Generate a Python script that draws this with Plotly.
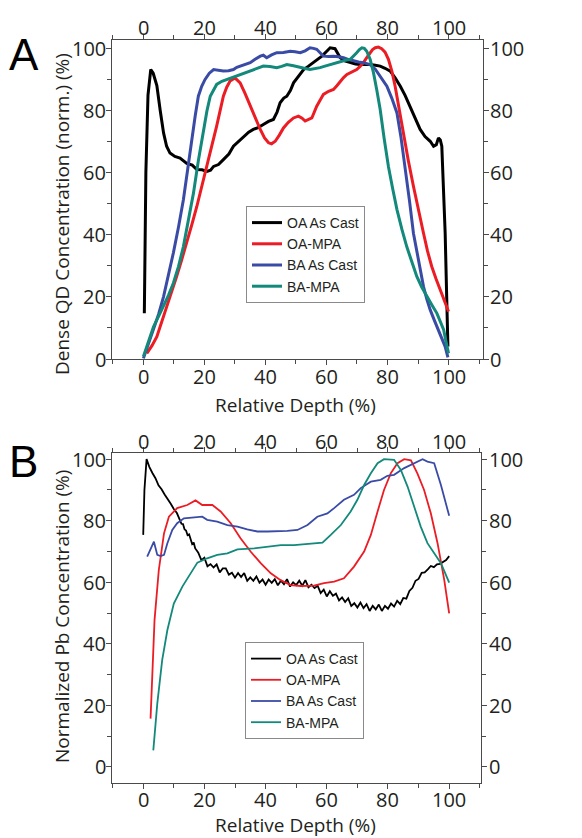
import plotly.graph_objects as go

# ---------------- Panel A data ----------------
a_oa_cast_x = [0.3, 0.8, 1.5, 2.4, 3.2, 4.4, 5.5, 6.6, 7.6, 8.7, 10.3, 12.0, 14.2, 16.0, 17.5, 19.2, 20.8, 22.0, 23.0, 24.6, 26.2, 28.0, 29.5, 31.2, 32.8, 34.5, 36.0, 37.6, 39.3, 41.0, 42.6, 43.8, 44.8, 46.0, 47.0, 48.2, 49.2, 51.0, 52.5, 54.0, 55.7, 57.0, 58.5, 60.0, 61.2, 62.8, 64.5, 66.0, 67.8, 69.5, 71.0, 72.6, 74.3, 76.0, 77.6, 79.2, 80.9, 82.5, 84.2, 85.8, 87.4, 89.0, 90.7, 92.3, 94.0, 95.1, 96.0, 96.7, 97.3, 97.8, 98.4, 98.9, 99.4, 99.8]
a_oa_cast_y = [14.7, 60.0, 85.0, 93.2, 92.0, 88.0, 80.0, 72.8, 68.5, 66.3, 65.2, 64.7, 63.0, 62.4, 61.0, 60.9, 60.4, 60.8, 62.0, 62.6, 64.2, 66.0, 68.5, 70.0, 71.7, 73.0, 73.9, 74.5, 75.5, 76.5, 77.1, 79.5, 82.5, 84.0, 84.6, 86.5, 88.9, 91.2, 93.2, 94.2, 95.4, 96.3, 97.5, 99.0, 100.2, 99.9, 97.0, 96.0, 95.4, 95.0, 94.8, 94.9, 94.8, 94.6, 94.3, 93.6, 92.7, 90.5, 87.8, 84.8, 81.4, 77.5, 73.9, 71.6, 70.1, 68.5, 69.0, 71.2, 70.5, 68.5, 55.0, 40.5, 20.0, 4.0]

a_oa_mpa_x = [1.1, 2.8, 4.4, 6.0, 7.7, 9.3, 10.9, 12.5, 14.2, 15.8, 17.5, 19.2, 20.8, 22.4, 24.0, 25.2, 26.2, 27.3, 28.4, 30.0, 31.7, 33.3, 35.0, 36.6, 38.3, 39.7, 41.0, 42.0, 43.2, 44.5, 45.9, 47.5, 49.2, 50.8, 52.0, 53.0, 54.0, 55.2, 56.8, 58.0, 59.0, 60.7, 62.3, 63.4, 64.5, 65.6, 66.7, 68.3, 69.9, 71.0, 72.1, 73.2, 74.3, 75.1, 76.0, 77.0, 78.1, 79.2, 80.3, 81.4, 82.5, 83.8, 85.2, 86.8, 88.5, 90.1, 91.8, 93.1, 94.5, 95.9, 97.3, 98.6, 100.0]
a_oa_mpa_y = [1.8, 4.3, 7.2, 11.8, 16.9, 21.6, 26.6, 31.8, 37.3, 43.0, 49.1, 55.6, 62.0, 68.6, 75.0, 80.0, 84.6, 87.5, 89.5, 90.5, 88.9, 85.5, 81.4, 77.5, 73.9, 71.2, 69.6, 69.3, 70.1, 72.0, 74.4, 76.2, 77.6, 78.2, 77.5, 76.6, 77.0, 77.6, 81.4, 83.5, 85.2, 86.2, 86.8, 88.0, 89.5, 90.6, 91.6, 92.4, 93.2, 94.2, 95.4, 97.0, 98.6, 99.6, 100.2, 100.4, 99.9, 98.8, 96.5, 92.8, 87.8, 80.5, 72.8, 64.0, 55.6, 47.8, 40.5, 34.8, 29.8, 25.8, 22.3, 18.8, 15.3]

a_ba_cast_x = [0.0, 1.6, 3.3, 5.0, 6.6, 8.2, 9.8, 11.5, 13.1, 14.5, 15.8, 17.0, 18.0, 19.1, 20.2, 21.6, 23.0, 24.6, 26.2, 27.9, 29.5, 30.6, 31.7, 33.3, 35.0, 36.6, 38.3, 39.3, 40.4, 42.0, 43.7, 45.9, 48.1, 49.7, 51.4, 53.0, 54.6, 55.7, 56.8, 57.9, 59.0, 60.7, 62.3, 64.0, 65.6, 67.3, 68.9, 70.5, 72.1, 73.2, 74.3, 76.0, 77.6, 78.7, 79.8, 81.4, 83.1, 84.4, 85.8, 87.2, 88.5, 90.1, 91.8, 92.9, 94.0, 95.3, 96.7, 97.8, 98.9, 99.8]
a_ba_cast_y = [0.2, 4.8, 9.4, 14.5, 20.1, 26.8, 34.1, 42.5, 51.3, 61.0, 70.6, 78.5, 84.6, 87.8, 90.0, 92.0, 93.2, 93.0, 92.7, 92.8, 93.2, 93.9, 94.3, 94.9, 95.4, 96.5, 97.5, 97.8, 97.0, 97.9, 98.6, 98.7, 99.1, 98.9, 98.6, 99.2, 100.2, 100.0, 99.7, 98.6, 97.5, 97.4, 97.5, 97.3, 97.0, 96.4, 95.9, 95.6, 95.4, 95.2, 94.8, 93.3, 91.1, 89.6, 87.8, 84.0, 79.2, 71.5, 62.0, 51.0, 40.5, 31.5, 23.3, 19.2, 15.8, 12.6, 9.4, 6.8, 4.0, 0.5]

a_ba_mpa_x = [0.0, 1.6, 3.3, 5.0, 6.6, 8.2, 9.8, 11.5, 13.1, 14.8, 16.4, 18.0, 19.7, 20.8, 21.9, 23.0, 24.0, 25.7, 27.3, 29.0, 30.6, 32.8, 35.0, 37.2, 39.3, 41.5, 43.7, 45.3, 47.0, 49.2, 51.4, 53.0, 54.6, 56.3, 57.9, 59.5, 61.2, 62.8, 64.5, 66.2, 67.8, 68.9, 69.9, 70.8, 71.6, 72.4, 73.2, 74.3, 75.4, 76.5, 77.6, 78.9, 80.3, 81.7, 83.1, 84.7, 86.3, 88.0, 89.6, 91.2, 92.9, 94.5, 96.2, 97.3, 98.4, 99.2, 100.0]
a_ba_mpa_y = [0.8, 5.8, 10.4, 13.8, 16.9, 20.5, 24.4, 29.8, 36.2, 44.5, 53.4, 63.8, 73.9, 79.8, 84.6, 86.8, 88.4, 89.4, 90.0, 90.7, 91.1, 91.9, 92.7, 93.6, 94.3, 94.2, 93.8, 94.2, 94.8, 94.4, 93.8, 93.5, 93.2, 93.4, 93.8, 94.3, 94.8, 95.4, 95.9, 96.2, 96.5, 97.5, 98.6, 99.6, 100.2, 100.0, 99.1, 96.5, 92.2, 86.5, 80.3, 71.0, 62.0, 54.8, 48.1, 41.8, 36.2, 31.2, 26.6, 23.2, 20.1, 17.5, 14.7, 12.2, 9.4, 5.5, 1.8]

# ---------------- Panel B data ----------------
b_oa_cast_x = [0, 0.4, 1.1, 2, 3, 4, 5, 6, 7, 8, 9, 10, 11, 12, 12.5, 13, 13.5, 14, 14.5, 15, 15.5, 16, 16.5, 17, 17.5,
               18, 19, 20, 21, 22, 23, 24, 25, 26, 27, 28, 29, 30, 31, 32, 33, 34, 35, 36, 37, 38, 39, 40, 41, 42, 43, 44, 45,
               46, 47, 48, 49, 50, 51, 52, 53, 54, 55, 56, 57, 58, 59, 60, 61, 62, 63, 64, 65, 66, 67, 68, 69, 70, 71, 72,
               73, 74, 75, 76, 77, 78, 79, 80, 81, 82, 83, 84, 85, 86, 87, 88, 89, 90, 91, 92, 93, 94, 95, 96, 97, 98, 99, 100]
b_oa_cast_y = [75.4, 90.0, 100.0, 97.5, 95.5, 93.8, 91.5, 90.2, 88.5, 87.2, 85.5, 83.8, 82.5, 80.2, 79.0, 78.9, 77.2, 76.8, 75.3, 75.6, 73.9, 72.4, 72.9, 71.0, 70.3,
               69.6, 67.2, 68.0, 65.2, 65.9, 64.8, 65.8, 63.2, 64.5, 64.5, 62.5, 63.1, 61.5, 63.0, 61.7, 63.0, 60.5, 61.6, 60.5, 61.9, 59.9, 60.9, 59.2, 60.9, 59.8, 61.0, 59.0, 60.5,
               59.4, 61.0, 58.6, 60.0, 59.1, 60.5, 58.9, 60.7, 58.4, 59.2, 58.1, 58.9, 56.5, 57.6, 55.4, 57.1, 55.6, 56.3, 54.1, 55.1, 53.6, 54.8, 52.3, 53.2, 51.8, 53.4, 51.6,
               52.9, 50.7, 52.35, 51.2, 52.75, 50.7, 52.35, 51.4, 53.1, 52.1, 54.0, 52.9, 54.9, 54.7, 57.2, 58.2, 60.5, 61.1, 63.1, 63.2, 64.2, 65.3, 64.9, 65.8, 66.0, 66.5, 67.2, 68.5]

b_oa_mpa_x = [2.4, 3.7, 5.1, 6.8, 8.4, 11.1, 14.4, 17.1, 19.3, 22.6, 25.3, 28.6, 31.8, 35.1, 38.4, 41.7, 44.9, 48.2, 51.5, 55.8, 59.1, 62.4, 65.6, 68.9, 72.2, 74.4, 76.6, 78.7, 80.9, 83.1, 85.3, 87.5, 89.6, 91.8, 94.0, 96.2, 98.4, 100.0]
b_oa_mpa_y = [15.7, 47.7, 64.0, 75.9, 81.3, 84.1, 85.1, 86.6, 85.1, 85.1, 83.0, 79.2, 74.3, 70.0, 66.2, 62.9, 60.7, 59.1, 58.8, 58.9, 59.7, 60.2, 61.3, 65.1, 70.0, 75.4, 83.0, 90.0, 95.4, 98.7, 100.0, 99.6, 95.4, 90.0, 82.4, 72.7, 60.7, 49.9]

b_ba_cast_x = [1.3, 2.4, 3.5, 4.6, 5.7, 6.8, 7.9, 9.5, 11.1, 13.3, 16.6, 19.3, 20.9, 24.2, 27.5, 30.8, 34.0, 37.3, 40.6, 43.8, 47.1, 50.4, 53.7, 56.9, 60.2, 62.4, 65.6, 68.9, 71.1, 74.4, 77.6, 79.8, 82.0, 85.3, 88.5, 91.3, 92.9, 95.1, 97.3, 100.0]
b_ba_cast_y = [68.3, 70.5, 73.2, 68.9, 68.5, 68.9, 72.7, 77.0, 79.2, 80.8, 81.0, 81.3, 80.3, 79.7, 78.6, 78.1, 77.2, 76.5, 76.5, 76.5, 76.7, 77.0, 78.6, 81.3, 82.4, 84.1, 86.8, 88.4, 90.6, 92.7, 93.3, 94.6, 94.9, 97.1, 98.7, 100.0, 99.2, 98.7, 91.6, 81.6]

b_ba_mpa_x = [3.3, 4.6, 6.2, 7.9, 10.0, 12.8, 15.5, 17.7, 20.9, 24.2, 27.5, 30.8, 36.2, 40.6, 45.0, 49.3, 53.7, 58.6, 61.3, 64.6, 67.8, 70.0, 72.2, 74.4, 76.6, 78.7, 82.0, 84.2, 86.4, 88.5, 90.7, 92.9, 95.1, 97.3, 100.0]
b_ba_mpa_y = [5.4, 20.6, 34.7, 44.5, 53.1, 58.6, 62.9, 66.4, 67.8, 68.9, 69.4, 70.7, 71.0, 71.6, 72.1, 72.1, 72.5, 72.9, 75.4, 78.6, 83.0, 86.8, 91.6, 95.4, 98.7, 100.0, 99.8, 96.5, 91.1, 84.6, 78.1, 72.7, 69.4, 66.2, 59.9]

series_names = ["OA As Cast", "OA-MPA", "BA As Cast", "BA-MPA"]
series_colors = ["#000000", "#ec1c24", "#3a4ba6", "#12897a"]
tick_vals = [0, 20, 40, 60, 80, 100]
tick_text = ["0", "20", "40", "60", "80", "100"]

W, H = 582, 838
def px_x(p): return p / W
def px_y(p): return 1 - p / H

fig = go.Figure()

panelA = [(a_oa_cast_x, a_oa_cast_y), (a_oa_mpa_x, a_oa_mpa_y), (a_ba_cast_x, a_ba_cast_y), (a_ba_mpa_x, a_ba_mpa_y)]
panelB = [(b_oa_cast_x, b_oa_cast_y), (b_oa_mpa_x, b_oa_mpa_y), (b_ba_cast_x, b_ba_cast_y), (b_ba_mpa_x, b_ba_mpa_y)]

for (xs, ys), name, col in zip(panelA, series_names, series_colors):
    fig.add_trace(go.Scatter(x=xs, y=ys, mode="lines", name=name,
                             line=dict(color=col, width=3), xaxis="x", yaxis="y",
                             legend="legend"))
for (xs, ys), name, col in zip(panelB, series_names, series_colors):
    fig.add_trace(go.Scatter(x=xs, y=ys, mode="lines", name=name,
                             line=dict(color=col, width=1.8), xaxis="x2", yaxis="y2",
                             legend="legend2"))

axcol = "#4a4a4a"
common = dict(showline=True, linecolor=axcol, linewidth=1.2, mirror="allticks",
              ticks="outside", ticklen=5, tickcolor=axcol, tickwidth=1,
              showgrid=False, zeroline=False, automargin=False,
              tickvals=tick_vals, showticklabels=False,
              minor=dict(ticks="outside", ticklen=4, tickcolor=axcol, dtick=10, tick0=0))

xdomA = [px_x(112), px_x(483)]
xdomB = [px_x(112), px_x(481)]
ydomA = [px_y(359), px_y(40)]
ydomB = [px_y(783), px_y(453)]
xrA = [-10.3, 111.3]
yrA = [0, 102.7]
xrB = [-10.2, 110.4]
yrB = [-5.2, 102.0]

fig.update_layout(
    width=W, height=H,
    margin=dict(l=0, r=0, t=0, b=0, autoexpand=False),
    paper_bgcolor="white", plot_bgcolor="white",
    showlegend=True,
    xaxis=dict(domain=xdomA, range=xrA, anchor="y", **common),
    yaxis=dict(domain=ydomA, range=yrA, anchor="x", **common),
    xaxis2=dict(domain=xdomB, range=xrB, anchor="y2", **common),
    yaxis2=dict(domain=ydomB, range=yrB, anchor="x2", **common),
    legend=dict(x=px_x(246), y=px_y(206), xanchor="left", yanchor="top",
                bordercolor="#8a8a8a", borderwidth=1, bgcolor="white",
                font=dict(family="Liberation Sans", size=14, color="#231f20"),
                tracegroupgap=0, itemwidth=30),
    legend2=dict(x=px_x(245), y=px_y(642), xanchor="left", yanchor="top",
                 bordercolor="#8a8a8a", borderwidth=1, bgcolor="white",
                 font=dict(family="Liberation Sans", size=14, color="#231f20"),
                 tracegroupgap=0, itemwidth=30),
)

tick_font = dict(family="Open Sans", size=20, color="#231f20")
title_font = dict(family="Open Sans", size=19, color="#231f20")
ann = [
    dict(text="A", x=px_x(24), y=px_y(54), xref="paper", yref="paper",
         font=dict(family="Liberation Sans", size=44, color="#000")),
    dict(text="B", x=px_x(23), y=px_y(461), xref="paper", yref="paper",
         font=dict(family="Liberation Sans", size=44, color="#000")),
    dict(text="Relative Depth (%)", x=px_x(295), y=px_y(405), xref="paper", yref="paper", font=title_font),
    dict(text="Relative Depth (%)", x=px_x(295), y=px_y(825), xref="paper", yref="paper", font=title_font),
    dict(text="Dense QD Concentration (norm.) (%)", x=px_x(62), y=px_y(214), xref="paper", yref="paper",
         textangle=-90, font=title_font),
    dict(text="Normalized Pb Concentration (%)", x=px_x(62), y=px_y(617), xref="paper", yref="paper",
         textangle=-90, font=title_font),
]
# tick labels on all four sides of each panel
for v, t in zip(tick_vals, tick_text):
    ann.append(dict(text=t, x=v, xref="x", y=px_y(377), yref="paper", font=tick_font))
    ann.append(dict(text=t, x=v, xref="x", y=px_y(27), yref="paper", font=tick_font))
    ann.append(dict(text=t, x=v, xref="x2", y=px_y(799), yref="paper", font=tick_font))
    ann.append(dict(text=t, x=v, xref="x2", y=px_y(442), yref="paper", font=tick_font))
    ann.append(dict(text=t, y=v, yref="y", x=px_x(108), xref="paper", xanchor="right", font=tick_font))
    ann.append(dict(text=t, y=v, yref="y", x=px_x(488), xref="paper", xanchor="left", font=tick_font))
    ann.append(dict(text=t, y=v, yref="y2", x=px_x(108), xref="paper", xanchor="right", font=tick_font))
    ann.append(dict(text=t, y=v, yref="y2", x=px_x(487), xref="paper", xanchor="left", font=tick_font))
for a in ann:
    a.setdefault("xanchor", "center")
    a.update(showarrow=False, yanchor="middle")
fig.update_layout(annotations=ann)

fig.write_html("out.html", config={"displayModeBar": False},
               post_script="document.body.style.margin='0';document.body.style.overflow='hidden';")
